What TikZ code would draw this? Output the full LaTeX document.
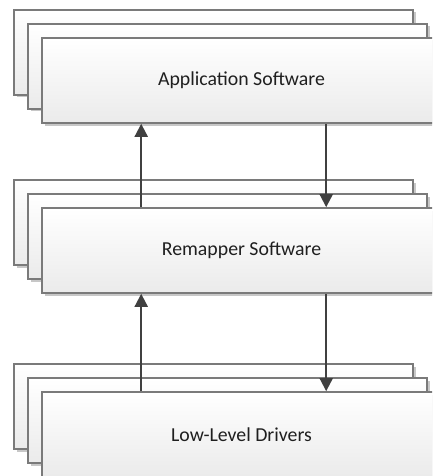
\documentclass[tikz,border=0pt]{standalone}
\usepackage{fontspec}
\setmainfont{Carlito}
\usetikzlibrary{calc,shadows,arrows.meta}

\tikzset{
  layerbox/.style={rectangle, inner sep=0pt, minimum width=399pt, minimum height=85pt,
    draw=black!52, line width=1.6pt, top color=white, bottom color=black!8,
    drop shadow={shadow xshift=2.5pt, shadow yshift=-2.5pt, fill=black!22, opacity=1},
    font=\fontsize{19.8}{23}\selectfont, text=black!88},
  flow/.style={draw=black!75, line width=2pt,
    -{Triangle[length=13pt, width=13pt]}},
}

% three stacked boxes; the label sits on the front one
\newcommand\layerstack[3]{%
  \node[layerbox] (#1back) at (213.5,#2+52.5) {};
  \node[layerbox] (#1mid)  at (227.5,#2+66.5) {};
  \node[layerbox] (#1)     at (241.5,#2+80.5) {#3};
}

\begin{document}
\begin{tikzpicture}[x=1pt, y=-1pt]
  \path[use as bounding box] (0,0) rectangle (432,476);
  \clip (0,0) rectangle (432,476);
  \fill[white] (0,0) rectangle (432,476);

  \layerstack{app}{0}{Application Software}
  \layerstack{remap}{170}{Remapper Software}
  \layerstack{drv}{354}{Low-Level Drivers}

  % upward data path
  \draw[flow] ($(remap.north west)+(100,0)$) -- ($(app.south west)+(100,0)$);
  \draw[flow] ($(drv.north west)+(100,0)$) -- ($(remap.south west)+(100,0)$);
  % downward data path
  \draw[flow] ($(app.south west)+(285,0)$) -- ($(remap.north west)+(285,0)$);
  \draw[flow] ($(remap.south west)+(285,0)$) -- ($(drv.north west)+(285,0)$);
\end{tikzpicture}
\end{document}
